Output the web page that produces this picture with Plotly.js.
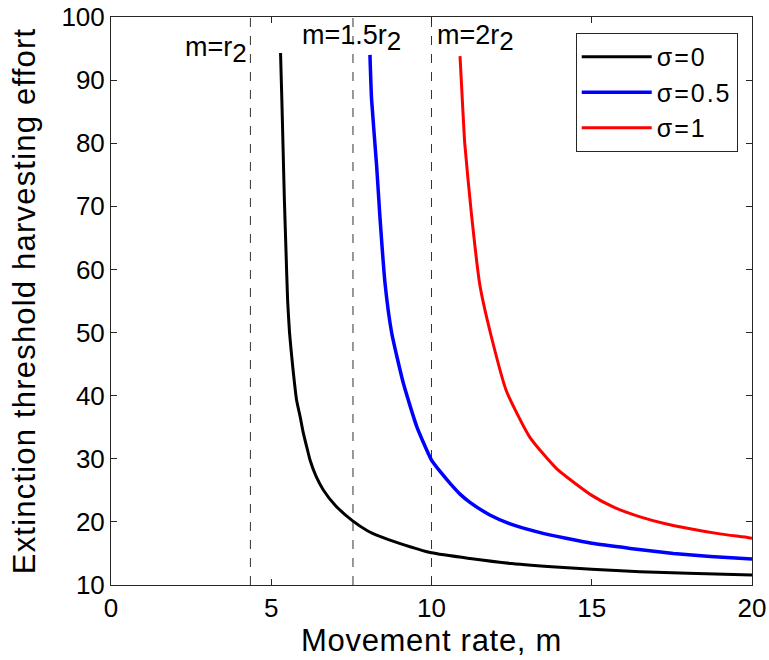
<!DOCTYPE html>
<html>
<head>
<meta charset="utf-8">
<script src="https://cdn.plot.ly/plotly-3.0.1.min.js"></script>
<style>
html,body{margin:0;padding:0;background:#fff;}
#chart{width:769px;height:660px;}
.legendtext{letter-spacing:2px;}
.ytitle{letter-spacing:1.2px;}
.xtitle{letter-spacing:0.7px;}
</style>
</head>
<body>
<div id="chart"></div>
<script>
// Series: sigma = 0
const xSigma0 = [5.29,5.33,5.37,5.41,5.46,5.51,5.57,5.67,5.79,5.90,6.0,6.13,6.21,6.40,6.62,7.0,7.53,8.0,8.39,9.0,10.0,11.2,12.5,14.0,15.0,16.5,18.0,20.0];
const ySigma0 = [94.3,87,79,71,63,55.2,50,44.6,39.3,36.7,34.1,31.4,29.8,27.2,25.1,22.6,20.2,18.6,17.7,16.6,15.1,14.2,13.4,12.8,12.5,12.1,11.85,11.6];
// Series: sigma = 0.5
const xSigma05 = [8.08,8.13,8.29,8.39,8.55,8.76,9.12,9.54,10.0,10.3,10.58,10.89,11.2,11.82,12.5,13.39,14.2,15.0,16.2,17.55,18.7,20.0];
const ySigma05 = [94,87,76.3,68.4,57.8,49.9,42.0,35.1,29.8,27.8,26.1,24.4,23.1,21.1,19.6,18.3,17.4,16.6,15.8,15.0,14.5,14.1];
// Series: sigma = 1
const xSigma1 = [10.89,10.96,11.04,11.25,11.51,11.88,12.34,13.07,13.91,15.0,15.7,16.51,17.3,18.07,19.0,19.9,20.0];
const ySigma1 = [93.8,87,79.8,68.6,57.5,49.1,40.7,33.4,28.4,24.2,22.3,20.8,19.7,18.9,18.1,17.5,17.4];

const seriesNames = ['σ=0','σ=0.5','σ=1'];
// Reference movement rates (dashed lines) and labels
const refX = [4.35, 7.55, 10.0];
const refMain = ['m=r','m=1.5r','m=2r'];
const refSub = '2';
const yRange = [10, 100];
const xTicks = [0,5,10,15,20];
const yTicks = [10,20,30,40,50,60,70,80,90,100];

const font = 'Liberation Sans, Arial, Helvetica, sans-serif';
const traces = [];
refX.forEach(function(v){
  traces.push({x:[v,v], y:yRange, mode:'lines', showlegend:false, hoverinfo:'skip',
    line:{color:'#333', width:1, dash:'dash'}});
});
traces.push({x:xSigma0, y:ySigma0, name:seriesNames[0], mode:'lines', line:{color:'#000000', width:3, shape:'spline', smoothing:0.5}});
traces.push({x:xSigma05, y:ySigma05, name:seriesNames[1], mode:'lines', line:{color:'#0000ff', width:3.5, shape:'spline', smoothing:0.5}});
traces.push({x:xSigma1, y:ySigma1, name:seriesNames[2], mode:'lines', line:{color:'#ff0000', width:3, shape:'spline', smoothing:0.5}});

function lab(i){ return refMain[i] + '<sub><span style="font-size:26px">' + refSub + '</span></sub>'; }
const annoFont = {family:font, size:27, color:'#000'};
const annos = [
  {x:refX[0], y:94.8, xref:'x', yref:'y', text:lab(0), xanchor:'right', yanchor:'middle', xshift:-1, showarrow:false, font:annoFont},
  {x:refX[1], y:96.7, xref:'x', yref:'y', text:lab(1), xanchor:'center', yanchor:'middle', xshift:-1, showarrow:false, font:annoFont},
  {x:refX[2], y:96.7, xref:'x', yref:'y', text:lab(2), xanchor:'left', yanchor:'middle', xshift:3, showarrow:false, font:annoFont}
];

const axisCommon = {
  showline:true, linecolor:'#262626', linewidth:1, mirror:'ticks',
  ticks:'inside', ticklen:6, tickcolor:'#262626', showgrid:false, zeroline:false,
  tickfont:{family:font, size:26, color:'#000'}
};

const layout = {
  width:769, height:660,
  margin:{l:111, r:17, t:17, b:75},
  paper_bgcolor:'#fff', plot_bgcolor:'#fff',
  font:{family:font, color:'#000'},
  xaxis:Object.assign({}, axisCommon, {range:[0,20], tickvals:xTicks, ticktext:xTicks.map(String),
    title:{text:'Movement rate, m', font:{family:font, size:31, color:'#000'}, standoff:2}}),
  yaxis:Object.assign({}, axisCommon, {range:yRange, tickvals:yTicks, ticktext:yTicks.map(String),
    title:{text:'Extinction threshold harvesting effort', font:{family:font, size:31, color:'#000'}, standoff:16}}),
  legend:{x:0.725, y:0.972, xanchor:'left', yanchor:'top', bgcolor:'#fff', bordercolor:'#262626', borderwidth:1,
    font:{family:font, size:25, color:'#000'}, itemwidth:70},
  annotations:annos,
  showlegend:true
};

Plotly.newPlot('chart', traces, layout, {staticPlot:true, displayModeBar:false});
</script>
</body>
</html>
